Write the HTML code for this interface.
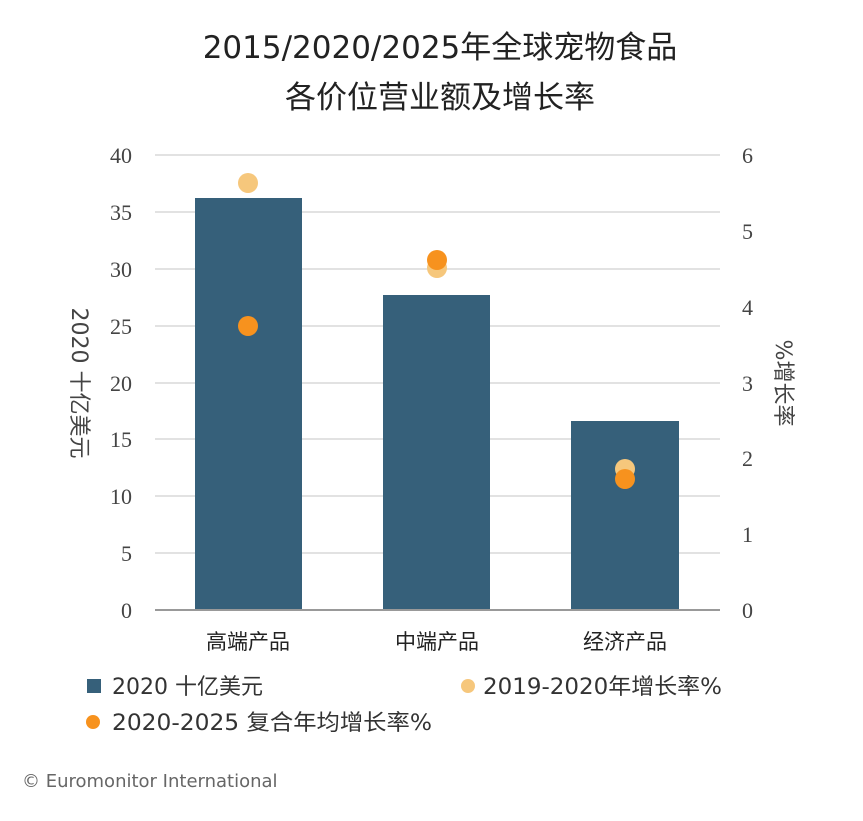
<!DOCTYPE html>
<html><head><meta charset="utf-8"><style>
body{margin:0;background:#fff;}
svg text{font-family:"DejaVu Sans","Noto Sans CJK SC",sans-serif;}
svg text.s{font-family:"Liberation Serif",serif;}
</style></head><body>
<svg width="863" height="816" xmlns="http://www.w3.org/2000/svg">
<rect width="863" height="816" fill="#fff"/>
<text x="440" y="58" font-size="31" text-anchor="middle" fill="#222">2015/2020/2025年全球宠物食品</text>
<text x="440" y="108" font-size="31" text-anchor="middle" fill="#222">各价位营业额及增长率</text>
<g stroke="#d9d9d9" stroke-width="1.5">
<line x1="155" x2="720" y1="155" y2="155"/><line x1="155" x2="720" y1="212" y2="212"/>
<line x1="155" x2="720" y1="269" y2="269"/><line x1="155" x2="720" y1="326" y2="326"/>
<line x1="155" x2="720" y1="383" y2="383"/><line x1="155" x2="720" y1="439" y2="439"/>
<line x1="155" x2="720" y1="496" y2="496"/><line x1="155" x2="720" y1="553" y2="553"/>
</g>
<rect x="195" y="198" width="107" height="412" fill="#36607a"/>
<rect x="383" y="295" width="107" height="315" fill="#36607a"/>
<rect x="571" y="421" width="108" height="189" fill="#36607a"/>
<line x1="155" x2="720" y1="610" y2="610" stroke="#999" stroke-width="2"/>
<g font-size="22" fill="#444" text-anchor="end">
<text class="s" x="132" y="163">40</text><text class="s" x="132" y="220">35</text><text class="s" x="132" y="277">30</text>
<text class="s" x="132" y="334">25</text><text class="s" x="132" y="391">20</text><text class="s" x="132" y="447">15</text>
<text class="s" x="132" y="504">10</text><text class="s" x="132" y="561">5</text><text class="s" x="132" y="618">0</text>
</g>
<g font-size="22" fill="#444">
<text class="s" x="742" y="163">6</text><text class="s" x="742" y="239">5</text><text class="s" x="742" y="315">4</text>
<text class="s" x="742" y="391">3</text><text class="s" x="742" y="466">2</text><text class="s" x="742" y="542">1</text>
<text class="s" x="742" y="618">0</text>
</g>
<text transform="translate(72,383) rotate(90)" font-size="22" fill="#444" text-anchor="middle">2020 十亿美元</text>
<text transform="translate(776,383) rotate(90)" font-size="22" fill="#444" text-anchor="middle">%增长率</text>
<g font-size="21" fill="#222" text-anchor="middle">
<text x="248" y="649">高端产品</text><text x="437" y="649">中端产品</text><text x="625" y="649">经济产品</text>
</g>
<circle cx="248" cy="183" r="10" fill="#f6c77c"/>
<circle cx="248" cy="326" r="10" fill="#f7921e"/>
<circle cx="437" cy="268" r="10" fill="#f6c77c"/>
<circle cx="437" cy="260" r="10" fill="#f7921e"/>
<circle cx="625" cy="469" r="10" fill="#f6c77c"/>
<circle cx="625" cy="479" r="10" fill="#f7921e"/>
<rect x="87" y="679" width="14" height="14" fill="#36607a"/>
<text x="112" y="694" font-size="22" fill="#333">2020 十亿美元</text>
<circle cx="468" cy="686" r="7" fill="#f6c77c"/>
<text x="483" y="694" font-size="22" fill="#333" textLength="239" lengthAdjust="spacingAndGlyphs">2019-2020年增长率%</text>
<circle cx="93" cy="722" r="7" fill="#f7921e"/>
<text x="112" y="730" font-size="22" fill="#333" textLength="320" lengthAdjust="spacingAndGlyphs">2020-2025 复合年均增长率%</text>
<text x="22" y="787" font-size="18" fill="#666">© Euromonitor International</text>
</svg>
</body></html>
